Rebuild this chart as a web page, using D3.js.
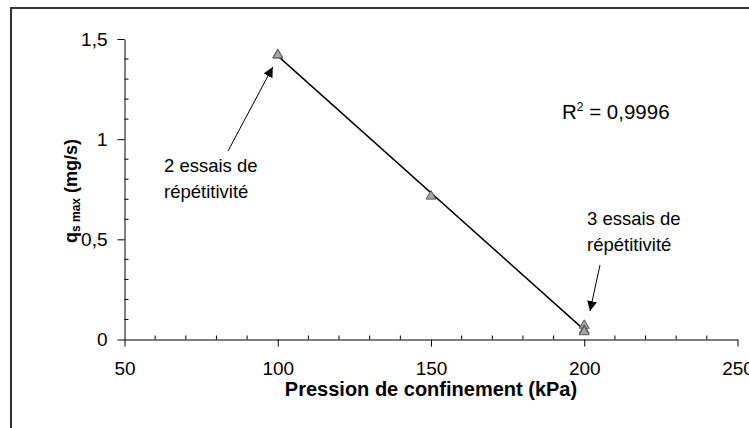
<!DOCTYPE html>
<html>
<head>
<meta charset="utf-8">
<script src="https://cdn.jsdelivr.net/npm/d3@7"></script>
<style>
  html, body { margin: 0; padding: 0; background: #fff; }
  svg { display: block; font-family: "Liberation Sans", Arial, sans-serif; }
</style>
</head>
<body>
<svg id="chart" width="749" height="428"></svg>
<script>
// Confining pressure (kPa) and maximum erosion rate qs max (mg/s), one entry per test
const pressure = [100, 100, 150, 200, 200, 200];
const qsMax    = [1.42, 1.42, 0.715, 0.07, 0.045, 0.038];

const xTicks = [50, 100, 150, 200, 250];
const yTicks = [0, 0.5, 1, 1.5];
const r2Label = "0,9996";

const svg = d3.select("#chart");
const W = 749, H = 428;

// Chart frame (top and left edges)
svg.append("line").attr("x1", 10).attr("x2", W).attr("y1", 8).attr("y2", 8)
  .attr("stroke", "#333").attr("stroke-width", 2);
svg.append("line").attr("x1", 11).attr("x2", 11).attr("y1", 7).attr("y2", H)
  .attr("stroke", "#333").attr("stroke-width", 2);

const x = d3.scaleLinear().domain([50, 250]).range([124.5, 737.5]);
const y = d3.scaleLinear().domain([0, 1.5]).range([339.5, 39]);

const fmt = v => String(v).replace(".", ",");

// Minor ticks (inside the plot)
const xMinor = d3.range(50, 251, 10).filter(v => v % 50 !== 0);
svg.append("g").selectAll("line").data(xMinor).join("line")
  .attr("x1", d => x(d)).attr("x2", d => x(d))
  .attr("y1", y(0)).attr("y2", y(0) - 4)
  .attr("stroke", "#000").attr("stroke-width", 1);
const yMinor = d3.range(0, 1.51, 0.1).map(v => +v.toFixed(1)).filter(v => Math.abs(v * 2 - Math.round(v * 2)) > 1e-9);
svg.append("g").selectAll("line").data(yMinor).join("line")
  .attr("x1", x(50)).attr("x2", x(50) + 4)
  .attr("y1", d => y(d)).attr("y2", d => y(d))
  .attr("stroke", "#000").attr("stroke-width", 1);

// Axes with major ticks outside
const xAxis = svg.append("g").attr("transform", `translate(0,${y(0)})`)
  .call(d3.axisBottom(x).tickValues(xTicks).tickSize(7).tickSizeOuter(0).tickFormat(fmt).tickPadding(15));
const yAxis = svg.append("g").attr("transform", `translate(${x(50)},0)`)
  .call(d3.axisLeft(y).tickValues(yTicks).tickSize(7).tickSizeOuter(0).tickFormat(fmt).tickPadding(10));
[xAxis, yAxis].forEach(g => {
  g.select(".domain").attr("stroke", "#000");
  g.selectAll(".tick line").attr("stroke", "#000");
  g.selectAll("text").attr("font-size", 19).attr("fill", "#000")
    .attr("font-family", "\"Liberation Sans\", Arial, sans-serif");
});

// Least-squares trend line over the tested pressures
const mx = d3.mean(pressure), my = d3.mean(qsMax);
const slope = d3.sum(pressure.map((p, i) => (p - mx) * (qsMax[i] - my))) /
              d3.sum(pressure.map(p => (p - mx) * (p - mx)));
const icpt = my - slope * mx;
const xr = d3.extent(pressure);
svg.append("line")
  .attr("x1", x(xr[0])).attr("y1", y(icpt + slope * xr[0]))
  .attr("x2", x(xr[1])).attr("y2", y(icpt + slope * xr[1]))
  .attr("stroke", "#000").attr("stroke-width", 1.5);

// Triangle markers
const tri = d3.symbol().type(d3.symbolTriangle).size(42);
svg.append("g").selectAll("path").data(pressure.map((p, i) => [p, qsMax[i]])).join("path")
  .attr("d", tri)
  .attr("transform", d => `translate(${x(d[0])},${y(d[1])})`)
  .attr("fill", "#a6a6a6").attr("stroke", "#555").attr("stroke-width", 1);

// Arrow marker
svg.append("defs").append("marker")
  .attr("id", "head").attr("viewBox", "0 0 10 10").attr("refX", 10).attr("refY", 5)
  .attr("markerWidth", 10).attr("markerHeight", 10).attr("markerUnits", "userSpaceOnUse")
  .attr("orient", "auto")
  .append("path").attr("d", "M0,0 L10,5 L0,10 z").attr("fill", "#000");

// Annotations
function note(lines, tx, ty, ax1, ay1, ax2, ay2) {
  const t = svg.append("text").attr("font-size", 18.5).attr("fill", "#000");
  lines.forEach((s, i) => t.append("tspan").attr("x", tx).attr("y", ty + i * 26).text(s));
  svg.append("line").attr("x1", ax1).attr("y1", ay1).attr("x2", ax2).attr("y2", ay2)
    .attr("stroke", "#000").attr("stroke-width", 1).attr("marker-end", "url(#head)");
}
note(["2 essais de", "répétitivité"], 164, 172, 228, 151, x(100) - 5, y(1.42) + 12);
note(["3 essais de", "répétitivité"], 587, 225, 600, 265, 590, 311);

// Coefficient of determination
const r2 = svg.append("text").attr("x", 562).attr("y", 119).attr("font-size", 20.5).attr("fill", "#000");
r2.append("tspan").text("R");
r2.append("tspan").attr("font-size", 12).attr("dy", -8).text("2");
r2.append("tspan").attr("dy", 8).text(" = " + r2Label);

// Axis titles
svg.append("text").attr("x", 431).attr("y", 396).attr("text-anchor", "middle")
  .attr("font-size", 20).attr("font-weight", "bold").attr("fill", "#000")
  .text("Pression de confinement (kPa)");
const yl = svg.append("text").attr("transform", "translate(77,191) rotate(-90)")
  .attr("text-anchor", "middle").attr("font-size", 18).attr("font-weight", "bold").attr("fill", "#000");
yl.append("tspan").text("q");
yl.append("tspan").attr("font-size", 12).attr("dy", 3).text("s max");
yl.append("tspan").attr("dy", -3).text(" (mg/s)");
</script>
</body>
</html>
